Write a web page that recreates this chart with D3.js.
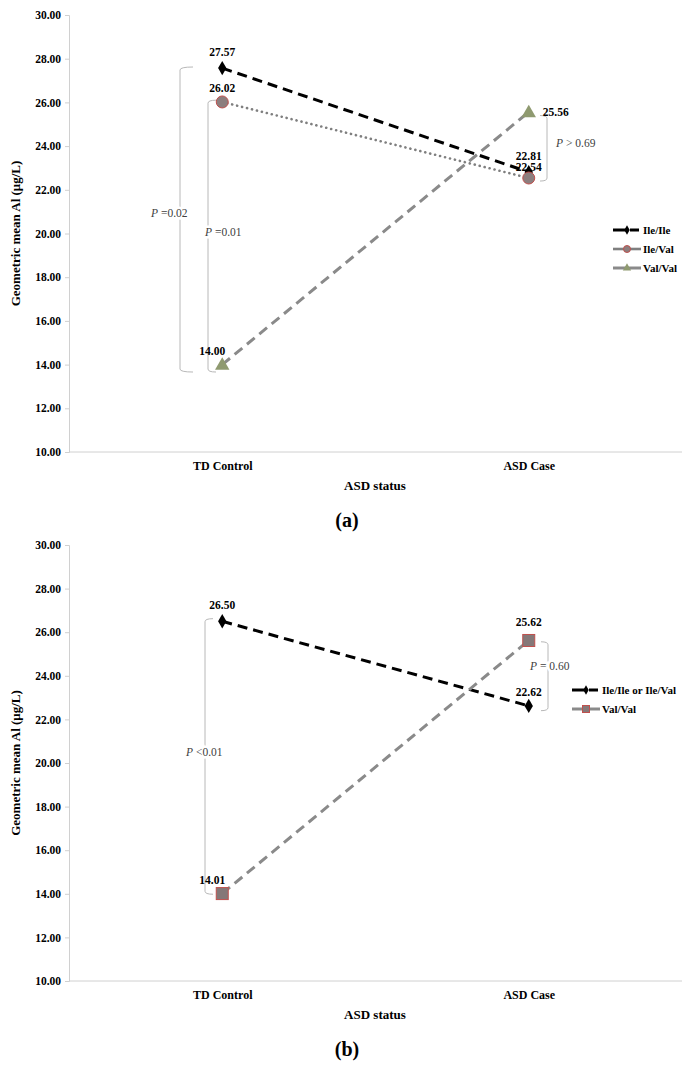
<!DOCTYPE html>
<html>
<head>
<meta charset="utf-8">
<script src="https://cdn.jsdelivr.net/npm/d3@7"></script>
<style>
  body { margin: 0; background: #fff; }
  text { font-family: "Liberation Serif", "Times New Roman", serif; }
</style>
</head>
<body>
<div class="chart"></div>
<script>
const width = 687,
    height = 1067;

// categories and ticks
const categories = ["TD Control", "ASD Case"];
const yTicks = [10, 12, 14, 16, 18, 20, 22, 24, 26, 28, 30];

// panel (a) series
const aNames = ["Ile/Ile", "Ile/Val", "Val/Val"];
const aIleIle = [27.57, 22.81];
const aIleVal = [26.02, 22.54];
const aValVal = [14.00, 25.56];

// panel (b) series
const bNames = ["Ile/Ile or Ile/Val", "Val/Val"];
const bIleAny = [26.50, 22.62];
const bValVal = [14.01, 25.62];

// P-value annotations: [top value, bottom value, label]
const aBrackets = [[27.62, 13.66, "0.02"], [26.10, 13.66, "0.01"], [25.40, 22.40, "0.69"]];
const bBrackets = [[26.62, 13.98, "0.01"], [25.56, 22.40, "0.60"]];

const svg = d3.select(".chart").append("svg")
    .attr("width", width)
    .attr("height", height);

const styles = {
  black:  {stroke: "#000", dash: "10,6", width: 3, cap: "butt"},
  dotted: {stroke: "#7f7f7f", dash: "0.1,5", width: 2.6, cap: "round"},
  gray:   {stroke: "#8a8a8a", dash: "10,6", width: 3, cap: "butt"}
};

function marker(g, type, x, y, s) {
  if (type === "diamond") {
    g.append("path").attr("d", d3.symbol(d3.symbolDiamond, 60)())
      .attr("transform", `translate(${x},${y})`).attr("fill", "#000");
  } else if (type === "circle") {
    g.append("circle").attr("cx", x).attr("cy", y).attr("r", s || 6)
      .attr("fill", "#8c7e7e").attr("stroke", "#c0504d").attr("stroke-width", 1);
  } else if (type === "triangle") {
    g.append("path").attr("d", d3.symbol(d3.symbolTriangle, s || 90)())
      .attr("transform", `translate(${x},${y + 1})`).attr("fill", "#8f9a70");
  } else if (type === "square") {
    const h = (s || 12) / 2;
    g.append("rect").attr("x", x - h).attr("y", y - h).attr("width", h * 2).attr("height", h * 2)
      .attr("fill", "#857878").attr("stroke", "#c0504d").attr("stroke-width", 1);
  }
}

function bracket(g, x, y0, y1, dir, hook) {
  const r = 3;
  const p = d3.path();
  p.moveTo(x + dir * hook, y0);
  p.quadraticCurveTo(x, y0, x, y0 + r);
  p.lineTo(x, y1 - r);
  p.quadraticCurveTo(x, y1, x + dir * hook, y1);
  g.append("path").attr("d", p.toString())
    .attr("fill", "none").attr("stroke", "#b8b8b8").attr("stroke-width", 1);
}

function pLabel(g, x, y, op, val, anchor) {
  const t = g.append("text").attr("x", x).attr("y", y)
    .attr("text-anchor", anchor || "start")
    .attr("font-size", 11.5).attr("fill", "#404040")
    .attr("stroke", "#fff").attr("stroke-width", 5).attr("paint-order", "stroke");
  t.append("tspan").attr("font-style", "italic").text("P");
  t.append("tspan").text(" " + op + val);
}

function drawPanel(cfg) {
  const g = svg.append("g");
  const x = d3.scalePoint().domain(categories).range([69, 682]).padding(0.5);
  const y = d3.scaleLinear().domain([10, 30]).range([cfg.yBottom, cfg.yTop]);

  // axes
  const ya = g.append("g").attr("transform", "translate(69,0)")
    .call(d3.axisLeft(y).tickValues(yTicks).tickFormat(d3.format(".2f")).tickSizeOuter(0).tickSize(4));
  ya.select(".domain").attr("stroke", "#d0d0d0");
  ya.selectAll(".tick line").attr("stroke", "#d0d0d0");
  ya.selectAll(".tick text").attr("font-family", "Liberation Serif").attr("font-weight", "bold")
    .attr("font-size", 11.5).attr("fill", "#000").attr("x", -8);

  const xa = g.append("g").attr("transform", `translate(0,${cfg.yBottom})`)
    .call(d3.axisBottom(x).tickSize(0).tickPadding(9));
  xa.select(".domain").attr("stroke", "#d0d0d0").attr("d", `M69,0H682`);
  xa.selectAll(".tick text").attr("font-family", "Liberation Serif").attr("font-weight", "bold")
    .attr("font-size", 12).attr("fill", "#000");

  g.append("text").attr("x", 375).attr("y", cfg.yBottom + 38).attr("text-anchor", "middle")
    .attr("font-weight", "bold").attr("font-size", 13).text("ASD status");

  g.append("text").attr("transform", `translate(20,${(cfg.yTop + cfg.yBottom) / 2}) rotate(-90)`)
    .attr("text-anchor", "middle").attr("font-weight", "bold").attr("font-size", 13)
    .text("Geometric mean Al (μg/L)");

  g.append("text").attr("x", 347).attr("y", cfg.yBottom + 75).attr("text-anchor", "middle")
    .attr("font-weight", "bold").attr("font-size", 20).text(cfg.caption);

  // brackets
  cfg.brackets.forEach((b, i) => {
    const bx = cfg.bracketX[i];
    bracket(g, bx.x, y(b[0]), y(b[1]), bx.dir, bx.hook);
  });
  cfg.brackets.forEach((b, i) => {
    const bx = cfg.bracketX[i];
    pLabel(g, bx.lx, bx.ly, bx.op, b[2], bx.anchor);
  });

  // series
  const line = d3.line().x((d, i) => x(categories[i])).y(d => y(d));
  cfg.series.forEach(s => {
    const st = styles[s.style];
    g.append("path").datum(s.values).attr("d", line)
      .attr("fill", "none").attr("stroke", st.stroke).attr("stroke-width", st.width)
      .attr("stroke-dasharray", st.dash).attr("stroke-linecap", st.cap);
  });
  cfg.series.forEach(s => {
    s.values.forEach((v, i) => {
      marker(g, s.marker, x(categories[i]), y(v));
      const off = s.labels[i];
      g.append("text").attr("x", x(categories[i]) + off[0]).attr("y", y(v) + off[1])
        .attr("text-anchor", off[2] || "middle")
        .attr("font-weight", "bold").attr("font-size", 11.5).attr("fill", "#000")
        .text(v.toFixed(2));
    });
  });

  // legend
  const lg = g.append("g");
  const lx = cfg.legendX;
  cfg.series.forEach((s, i) => {
    const ly = cfg.legendY + i * 19;
    const st = styles[s.style];
    lg.append("line").attr("x1", lx).attr("x2", lx + 28).attr("y1", ly).attr("y2", ly)
      .attr("stroke", st.stroke).attr("stroke-width", st.width)
      .attr("stroke-dasharray", s.style === "black" ? "14,3,9" : null);
    if (s.marker === "diamond") {
      lg.append("path").attr("d", d3.symbol(d3.symbolDiamond, 25)())
        .attr("transform", `translate(${lx + 14},${ly})`).attr("fill", "#000");
    } else if (s.marker === "circle") {
      marker(lg, "circle", lx + 14, ly, 3.5);
    } else if (s.marker === "triangle") {
      marker(lg, "triangle", lx + 14, ly - 1, 30);
    } else {
      marker(lg, "square", lx + 14, ly, 7);
    }
    lg.append("text").attr("x", lx + 30).attr("y", ly + 4)
      .attr("font-weight", "bold").attr("font-size", 11).text(s.name);
  });
}

drawPanel({
  yTop: 15, yBottom: 452, caption: "(a)", legendX: 613, legendY: 230,
  brackets: aBrackets,
  bracketX: [
    {x: 180, dir: 1, hook: 13, lx: 151, ly: 217, op: "=", anchor: "start"},
    {x: 208, dir: 1, hook: 8, lx: 205, ly: 236, op: "=", anchor: "start"},
    {x: 547, dir: -1, hook: 7, lx: 556, ly: 147, op: "> ", anchor: "start"}
  ],
  series: [
    {name: aNames[0], values: aIleIle, style: "black", marker: "diamond", labels: [[0, -12], [0, -12]]},
    {name: aNames[1], values: aIleVal, style: "dotted", marker: "circle", labels: [[0, -10], [0, -7]]},
    {name: aNames[2], values: aValVal, style: "gray", marker: "triangle", labels: [[-10, -10], [14, 4, "start"]]}
  ]
});

drawPanel({
  yTop: 545, yBottom: 981, caption: "(b)", legendX: 572, legendY: 690,
  brackets: bBrackets,
  bracketX: [
    {x: 205, dir: 1, hook: 8, lx: 186, ly: 756, op: "<", anchor: "start"},
    {x: 548, dir: -1, hook: 7, lx: 530, ly: 670, op: "= ", anchor: "start"}
  ],
  series: [
    {name: bNames[0], values: bIleAny, style: "black", marker: "diamond", labels: [[0, -12], [0, -10]]},
    {name: bNames[1], values: bValVal, style: "gray", marker: "square", labels: [[-10, -10], [0, -14]]}
  ]
});
</script>
</body>
</html>
